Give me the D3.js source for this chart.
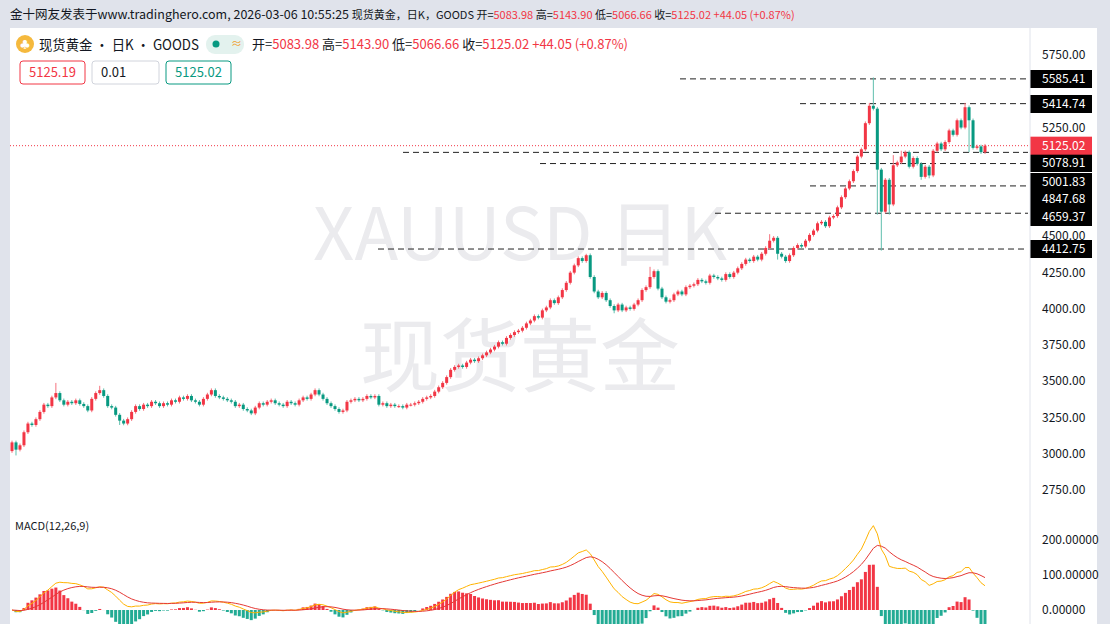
<!DOCTYPE html>
<html><head><meta charset="utf-8">
<script src="https://cdn.jsdelivr.net/npm/d3@7"></script>
<style>
body{margin:0;background:#e0e3eb;font-family:"Noto Sans CJK SC","Noto Sans",sans-serif;overflow:hidden}
</style></head><body>
<svg id="c" width="1110" height="624"></svg>
<script>
// daily closes
const closes = [
 3080,3030,3060,3150,3210,3200,3240,3290,3340,3330,
 3390,3420,3370,3340,3360,3350,3370,3345,3330,3300,
 3380,3420,3440,3400,3330,3320,3270,3230,3210,3240,
 3290,3330,3310,3340,3330,3360,3350,3330,3350,3340,
 3370,3360,3390,3380,3400,3370,3360,3340,3380,3410,
 3440,3400,3390,3380,3370,3360,3330,3340,3310,3300,
 3280,3320,3350,3340,3360,3370,3350,3340,3330,3360,
 3350,3340,3370,3390,3380,3410,3440,3410,3380,3350,
 3330,3310,3290,3300,3360,3370,3380,3370,3380,3400,
 3390,3400,3340,3350,3330,3340,3330,3330,3320,3340,
 3340,3350,3360,3380,3390,3400,3430,3460,3490,3530,
 3580,3600,3610,3600,3630,3650,3640,3660,3680,3700,
 3720,3740,3770,3760,3800,3820,3840,3850,3870,3900,
 3920,3950,3940,3990,4010,4060,4040,4080,4130,4180,
 4250,4300,4350,4330,4370,4220,4120,4080,4110,4060,
 4020,3990,4030,3990,4010,4000,4030,4060,4130,4150,
 4220,4260,4140,4080,4050,4060,4100,4120,4100,4150,
 4160,4170,4200,4190,4180,4230,4220,4210,4200,4240,
 4220,4250,4280,4310,4340,4330,4360,4340,4380,4420,
 4470,4490,4380,4360,4330,4370,4420,4440,4430,4470,
 4510,4540,4590,4600,4570,4630,4640,4700,4770,4830,
 4880,4950,5050,5100,5280,5400,5380,4960,4670,4890,
 4720,4990,5010,5050,5080,4980,5040,5000,4910,4980,
 4920,5090,5140,5100,5150,5230,5200,5300,5250,5390,
 5300,5110,5120,5080,5125.02
];
const firstOpen = 3020;
// candles with long wicks: index -> [high, low]
const wickHigh = {11:3490, 22:3470, 144:4380, 160:4290, 190:4515, 216:5595, 215:5420, 239:5420, 221:5060, 223:5090};
const wickLow = {1:2990, 27:3200, 151:3970, 192:4340, 217:4650, 218:4402, 220:4650, 228:4890, 230:4900, 240:5080};
const levels = [
 {v:5585.41, x0:680, ly:79},
 {v:5414.74, x0:800, ly:104},
 {v:5078.91, x0:403, ly:163},
 {v:5001.83, x0:540, ly:182},
 {v:4847.68, x0:810, ly:199},
 {v:4659.37, x0:715, ly:217},
 {v:4412.75, x0:378, ly:249}
];
const priceTicks = [2750,3000,3250,3500,3750,4000,4250,4500,5250,5750];
const macdTicks = [0,100,200];

const svg = d3.select('#c');
const up = '#f23645', dn = '#089981';
svg.append('rect').attr('x',10).attr('y',28).attr('width',1087).attr('height',596).attr('fill','#fff');

const x = d3.scaleLinear().domain([0, closes.length-1]).range([12, 985]);
const y = d3.scaleLinear().domain([3000, 5750]).range([454, 55]);

// watermark
svg.append('text').attr('x',520).attr('y',260).attr('text-anchor','middle').attr('font-size',72)
  .attr('fill','#ebebee').attr('font-family','"Noto Sans CJK SC"').text('XAUUSD 日K');
svg.append('text').attr('x',520).attr('y',385).attr('text-anchor','middle').attr('font-size',80)
  .attr('fill','#ebebee').attr('font-family','"Noto Sans CJK SC"').text('现货黄金');

// dashed levels
levels.forEach(l => {
  svg.append('line').attr('x1',l.x0).attr('x2',1028).attr('y1',y(l.v)).attr('y2',y(l.v))
    .attr('stroke','#222').attr('stroke-dasharray','6,4');
});
svg.append('line').attr('x1',10).attr('x2',1028).attr('y1',y(5125.02)).attr('y2',y(5125.02))
  .attr('stroke',up).attr('stroke-dasharray','1,2');

// candles
const candles = closes.map((c,i) => {
  const o = i ? closes[i-1] : firstOpen;
  const h = wickHigh[i] || Math.max(o,c)+12, l = wickLow[i] || Math.min(o,c)-12;
  return {i,o,c,h,l};
});
const g = svg.append('g').selectAll('g').data(candles).join('g');
g.append('line').attr('x1',d=>x(d.i)).attr('x2',d=>x(d.i)).attr('y1',d=>y(d.h)).attr('y2',d=>y(d.l))
  .attr('stroke',d=>d.c>=d.o?'#f5727d':'#5fbfad');
g.append('rect').attr('x',d=>x(d.i)-1.5).attr('width',3)
  .attr('y',d=>y(Math.max(d.o,d.c))).attr('height',d=>Math.max(1,Math.abs(y(d.o)-y(d.c))))
  .attr('fill',d=>d.c>=d.o?up:dn);

// price axis
const ax = svg.append('g').attr('font-size',12).attr('fill','#131722');
ax.selectAll('text').data(priceTicks).join('text').attr('x',1042).attr('y',d=>y(d)+4).text(d=>d.toFixed(2));
levels.forEach(l => {
  ax.append('rect').attr('x',1030).attr('y',l.ly-9).attr('width',62).attr('height',18).attr('fill','#000');
  ax.append('text').attr('x',1042).attr('y',l.ly+4).attr('fill','#fff').text(l.v.toFixed(2));
});
ax.append('rect').attr('x',1030).attr('y',y(5125.02)-9).attr('width',62).attr('height',18).attr('fill',up);
ax.append('text').attr('x',1042).attr('y',y(5125.02)+4).attr('fill','#fff').text('5125.02');

// MACD
const ema = (arr,n) => { const k=2/(n+1); let e=arr[0]; return arr.map(v => e = v*k + e*(1-k)); };
const e12 = ema(closes,12), e26 = ema(closes,26);
const dif = closes.map((c,i)=>e12[i]-e26[i]);
const dea = ema(dif,9);
const hist = dif.map((d,i)=>2*(d-dea[i]));
const ym = d3.scaleLinear().domain([0,200]).range([610,540]);
svg.append('g').selectAll('rect').data(hist).join('rect')
  .attr('x',(d,i)=>x(i)-1.5).attr('width',3)
  .attr('y',d=>d>=0?ym(d):ym(0)).attr('height',d=>Math.abs(ym(d)-ym(0)))
  .attr('fill',d=>d>=0?up:'#22ab94');
const ln = arr => d3.line().x((d,i)=>x(i)).y(d=>ym(d))(arr);
svg.append('path').attr('d',ln(dif)).attr('fill','none').attr('stroke','#ffb300').attr('stroke-width',1);
svg.append('path').attr('d',ln(dea)).attr('fill','none').attr('stroke','#e53935').attr('stroke-width',1);
svg.append('text').attr('x',15).attr('y',530).attr('font-size',11).attr('fill','#131722').text('MACD(12,26,9)');
const mx = svg.append('g').attr('font-size',12).attr('fill','#131722');
mx.selectAll('text').data(macdTicks).join('text').attr('x',1042).attr('y',d=>ym(d)+4).text(d=>d.toFixed(5));
svg.append('line').attr('x1',1030).attr('x2',1030).attr('y1',28).attr('y2',624).attr('stroke','#e0e3eb');

// header
const hd = svg.append('text').attr('x',10).attr('y',19).attr('font-size',12.5).attr('fill','#131722');
hd.append('tspan').text('金十网友发表于www.tradinghero.com, 2026-03-06 10:55:25 ');
hd.append('tspan').attr('font-size',11).text('现货黄金，日K，GOODS 开=');
[['5083.98',' 高='],['5143.90',' 低='],['5066.66',' 收='],['5125.02',' '],['+44.05 (+0.87%)','']].forEach(([v,t])=>{
  hd.append('tspan').attr('font-size',11).attr('fill',up).text(v);
  hd.append('tspan').attr('font-size',11).text(t);
});
svg.append('circle').attr('cx',25).attr('cy',44).attr('r',9).attr('fill','#f5b93d');
svg.append('text').attr('x',25).attr('y',48).attr('text-anchor','middle').attr('font-size',10).attr('fill','#fff').text('♣');
svg.append('text').attr('x',39).attr('y',50).attr('font-size',14).attr('fill','#131722')
  .attr('textLength',160).attr('lengthAdjust','spacingAndGlyphs').text('现货黄金 • 日K • GOODS');
svg.append('rect').attr('x',206).attr('y',35).attr('width',38).attr('height',19).attr('rx',9).attr('fill','#e3f2ee');
svg.append('circle').attr('cx',216).attr('cy',44).attr('r',3.5).attr('fill',dn);
svg.append('text').attr('x',231).attr('y',48).attr('font-size',11).attr('fill','#f0a030').text('≈');
const lg = svg.append('text').attr('x',252).attr('y',49).attr('font-size',13).attr('fill','#131722');
[['开=','5083.98'],[' 高=','5143.90'],[' 低=','5066.66'],[' 收=','5125.02 +44.05 (+0.87%)']].forEach(([t,v])=>{
  lg.append('tspan').text(t); lg.append('tspan').attr('fill',up).text(v);
});
[[20,65,'5125.19',up],[92,67,'0.01','#d1d4dc'],[166,65,'5125.02',dn]].forEach(([bx,w,t,c])=>{
  svg.append('rect').attr('x',bx).attr('y',61).attr('width',w).attr('height',23).attr('rx',3)
    .attr('fill','#fff').attr('stroke',c);
  svg.append('text').attr('x',bx+9).attr('y',77).attr('font-size',13)
    .attr('fill',c==='#d1d4dc'?'#131722':c).text(t);
});
</script></body></html>
